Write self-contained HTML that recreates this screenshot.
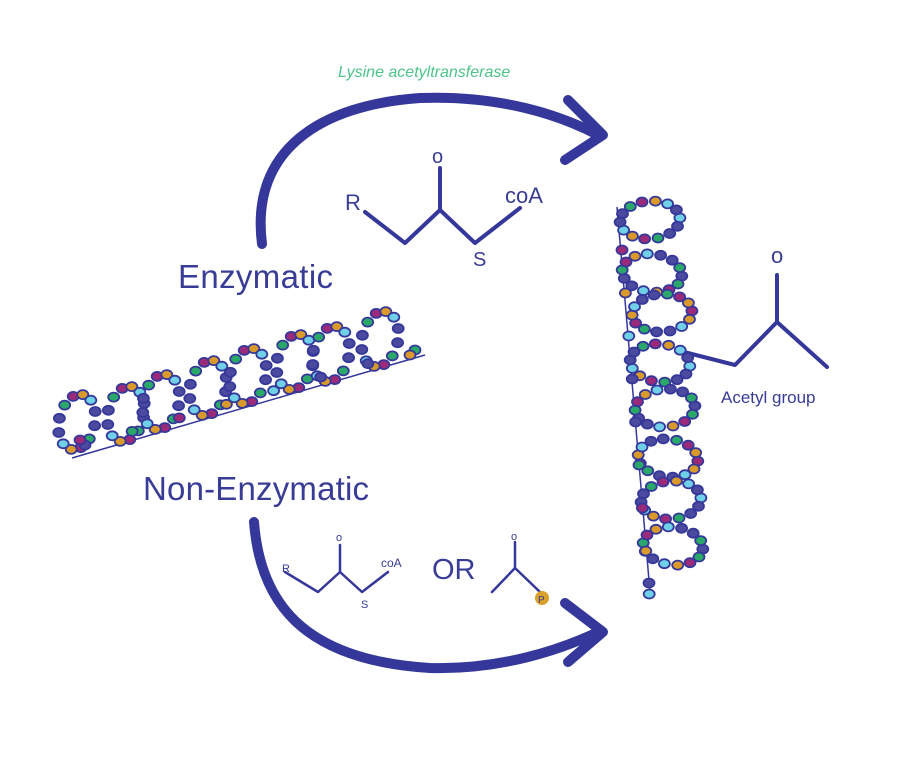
<!DOCTYPE html>
<html><head><style>
body{margin:0;background:#fff;width:912px;height:759px;overflow:hidden}
svg{display:block}
text{font-family:"Liberation Sans",sans-serif;fill:#393c96}
</style></head><body>
<svg id="s" width="912" height="759" viewBox="0 0 912 759">
<g fill="none" stroke="#35389a" stroke-linecap="round" stroke-linejoin="round">
<path d="M262 244 C250 150 320 105 420 98 C500 95 560 115 598 135" stroke-width="10"/>
<path d="M568 100 L603 135 L565 160" stroke-width="10"/>
<path d="M254 522 C260 600 300 660 430 668 C500 670 560 650 598 632" stroke-width="10"/>
<path d="M565 603 L603 632 L568 662" stroke-width="10"/>
<path d="M365 212 L405 243 L440 210 L475 243 L520 208" stroke-width="4"/>
<path d="M440 210 L440 168" stroke-width="4"/>
<path d="M285 572 L318 592 L340 572 L362 592 L388 572" stroke-width="2.5"/>
<path d="M340 572 L340 545" stroke-width="2.5"/>
<path d="M492 592 L515 568 L540 592" stroke-width="2.5"/>
<path d="M515 568 L515 542" stroke-width="2.5"/>
<path d="M684 352 L735 365 L777 322 L827 367" stroke-width="4"/>
<path d="M777 322 L777 275" stroke-width="4"/>
</g>
<circle cx="542" cy="598" r="7" fill="#d9a02a"/>
<text x="538" y="603" font-size="10">P</text>
<text x="338" y="77" font-size="16" font-style="italic" style="fill:#4dc48a">Lysine acetyltransferase</text>
<text x="432" y="163" font-size="20">o</text>
<text x="345" y="210" font-size="22">R</text>
<text x="505" y="203" font-size="22">coA</text>
<text x="473" y="266" font-size="20">S</text>
<text x="178" y="288" font-size="33" textLength="155">Enzymatic</text>
<text x="143" y="500" font-size="33" textLength="226">Non-Enzymatic</text>
<text x="282" y="572" font-size="11">R</text>
<text x="336" y="541" font-size="11">o</text>
<text x="381" y="567" font-size="12">coA</text>
<text x="361" y="608" font-size="11">S</text>
<text x="432" y="579" font-size="29">OR</text>
<text x="511" y="540" font-size="11">o</text>
<text x="771" y="263" font-size="22">o</text>
<text x="721" y="403" font-size="17">Acetyl group</text>
<g id="dna"></g>
</svg>
<script>
var cols=["#4b4a9e","#2aa86a","#9b2a7a","#d99a2a","#6fd0e8","#4b4a9e"];
var h="",ci=0;
function bead(x,y){h+='<ellipse cx="'+x.toFixed(1)+'" cy="'+y.toFixed(1)+'" rx="5.5" ry="4.5" fill="'+cols[(ci++*7)%6]+'" stroke="#35389a" stroke-width="1.8"/>';}
function oval(cx,cy,rx,ry,rot,n){
 var r=rot*Math.PI/180,c=Math.cos(r),s=Math.sin(r);
 for(var i=0;i<n;i++){var a=i/n*2*Math.PI,x=rx*Math.cos(a),y=ry*Math.sin(a);bead(cx+x*c-y*s,cy+x*s+y*c);}
}
h+='<path d="M72 458 L425 355" stroke="#35389a" stroke-width="1.5"/>';
var L=[[77,422],[126,414],[161,402],[208,388],[248,376],[295,362],[331,354],[380,339]];
L.forEach(function(p){oval(p[0],p[1],18,28,12,12);});
for(var i=0;i<8;i++){var t=i/7;bead(85+t*330,445-t*95);}
bead(80,440);bead(410,355);
h+='<path d="M617 207 L650 592" stroke="#35389a" stroke-width="1.5"/>';
var R=[[650,220],[652,273],[662,313],[660,363],[665,408],[668,458],[671,500],[673,546]];
R.forEach(function(p,k){oval(p[0],p[1],30,19,k%2?6:-4,14);});
for(var k=0;k<9;k++){bead(622+k*3.4,250+k*43);}
bead(649,583);
g=document.getElementById('dna');g.innerHTML=h;
</script>
</body></html>
